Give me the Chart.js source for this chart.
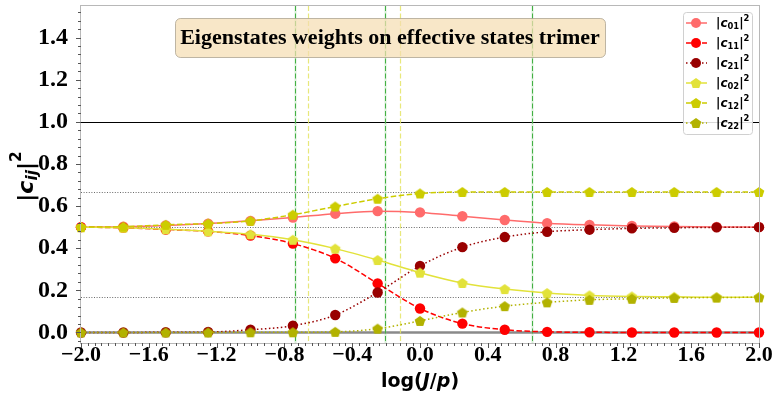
<!DOCTYPE html>
<html>
<head>
<meta charset="utf-8">
<script src="https://cdn.jsdelivr.net/npm/chart.js@4/dist/chart.umd.min.js"></script>
<style>
  html, body { margin: 0; padding: 0; background: #fff; }
  #wrap { width: 775px; height: 397px; }
</style>
</head>
<body>
<div id="wrap"><canvas id="c" width="775" height="397"></canvas></div>
<script>
// log(J/p) sample points
const logJp = [-2, -1.75, -1.5, -1.25, -1, -0.75, -0.5, -0.25, 0, 0.25, 0.5, 0.75, 1, 1.25, 1.5, 1.75, 2];

// squared weights |c_ij|^2
const c01 = [0.500, 0.502, 0.508, 0.517, 0.530, 0.546, 0.564, 0.576, 0.570, 0.552, 0.534, 0.519, 0.511, 0.506, 0.503, 0.501, 0.500];
const c11 = [0.500, 0.497, 0.489, 0.480, 0.460, 0.422, 0.352, 0.233, 0.114, 0.042, 0.013, 0.003, 0.001, 0.000, 0.000, 0.000, 0.000];
const c21 = [0.000, 0.000, 0.001, 0.002, 0.013, 0.032, 0.083, 0.190, 0.316, 0.405, 0.453, 0.478, 0.488, 0.494, 0.497, 0.499, 0.500];
const c02 = [0.500, 0.497, 0.490, 0.480, 0.466, 0.440, 0.398, 0.344, 0.284, 0.235, 0.206, 0.187, 0.176, 0.171, 0.169, 0.167, 0.167];
const c12 = [0.500, 0.502, 0.511, 0.517, 0.530, 0.559, 0.598, 0.635, 0.660, 0.667, 0.667, 0.667, 0.667, 0.667, 0.667, 0.667, 0.667];
const c22 = [0.000, 0.000, 0.000, 0.000, 0.001, 0.001, 0.003, 0.018, 0.055, 0.095, 0.125, 0.143, 0.155, 0.160, 0.164, 0.166, 0.167];

// reference levels and crossing markers
const hSolid = [1.0];
const hDotted = [2 / 3, 1 / 2, 1 / 6];
const vGreen = [-0.736, -0.208, 0.663];
const vYellow = [-0.659, -0.118];

// axis ticks
const xTicks = [-2.0, -1.6, -1.2, -0.8, -0.4, 0.0, 0.4, 0.8, 1.2, 1.6, 2.0];
const yTicks = [0.0, 0.2, 0.4, 0.6, 0.8, 1.0, 1.2, 1.4];

const titleText = 'Eigenstates weights on effective states trimer';

const SERIF = '"Liberation Serif", "Times New Roman", serif';
const SANS = '"DejaVu Sans", sans-serif';

function pentagon(color, r) {
  const s = Math.ceil(r * 2 + 2);
  const cv = document.createElement('canvas');
  cv.width = s; cv.height = s;
  const g = cv.getContext('2d');
  g.fillStyle = color;
  g.beginPath();
  for (let i = 0; i < 5; i++) {
    const a = -Math.PI / 2 + i * 2 * Math.PI / 5;
    const px = s / 2 + r * Math.cos(a), py = s / 2 + 0.5 + r * Math.sin(a);
    if (i) g.lineTo(px, py); else g.moveTo(px, py);
  }
  g.closePath();
  g.fill();
  return cv;
}

const series = [
  { key: ['0', '1'], vals: c01, color: '#ff6b6b', dash: [], marker: 'circle' },
  { key: ['1', '1'], vals: c11, color: '#ff0000', dash: [5.5, 2.5], marker: 'circle' },
  { key: ['2', '1'], vals: c21, color: '#990000', dash: [1.5, 2.5], marker: 'circle' },
  { key: ['0', '2'], vals: c02, color: '#e2e23a', dash: [], marker: 'pent' },
  { key: ['1', '2'], vals: c12, color: '#cccc00', dash: [5.5, 2.5], marker: 'pent' },
  { key: ['2', '2'], vals: c22, color: '#b2b200', dash: [1.5, 2.5], marker: 'pent' }
];

const datasets = series.map((s, i) => ({
  label: '|c' + s.key.join('') + '|²',
  data: logJp.map((x, k) => ({ x: x, y: s.vals[k] })),
  borderColor: s.color,
  backgroundColor: s.color,
  borderWidth: 1.5,
  borderDash: s.dash,
  cubicInterpolationMode: 'monotone',
  pointStyle: s.marker === 'circle' ? 'circle' : pentagon(s.color, 5.6),
  pointRadius: 5.2,
  pointBorderWidth: 0,
  pointBorderColor: s.color,
  order: 6 - i,
  clip: 8
}));

// draws text with sub/superscripts; returns total width
function mathRuns(ctx, x, y, runs, base, doDraw) {
  let cx = x;
  for (const [t, k] of runs) {
    let size = base, dy = 0, style = '';
    if (k === 'i') style = 'italic ';
    if (k === 'sub' || k === 'isub') { size = base * 0.7; dy = base * 0.25; }
    if (k === 'isub') style = 'italic ';
    if (k === 'sup') { size = base * 0.7; dy = -base * 0.45; }
    ctx.font = style + 'bold ' + size + 'px ' + SANS;
    if (doDraw) ctx.fillText(t, cx, y + dy);
    cx += ctx.measureText(t).width;
  }
  return cx - x;
}

const decor = {
  id: 'decor',
  beforeDatasetsDraw(chart) {
    const { ctx, chartArea: a, scales: { x, y } } = chart;
    ctx.save();
    ctx.beginPath();
    ctx.rect(a.left, a.top, a.right - a.left, a.bottom - a.top);
    ctx.clip();
    const hline = (v, col, w, dash) => {
      const py = Math.round(y.getPixelForValue(v)) + (w % 2 ? 0.5 : 0);
      ctx.strokeStyle = col; ctx.lineWidth = w; ctx.setLineDash(dash);
      ctx.beginPath(); ctx.moveTo(a.left, py); ctx.lineTo(a.right, py); ctx.stroke();
    };
    const vline = (v, col, w, dash) => {
      const px = Math.round(x.getPixelForValue(v)) + 0.5;
      ctx.strokeStyle = col; ctx.lineWidth = w; ctx.setLineDash(dash);
      ctx.beginPath(); ctx.moveTo(px, a.top); ctx.lineTo(px, a.bottom); ctx.stroke();
    };
    hline(0, '#8a8a8a', 2.5, []);
    hSolid.forEach(v => hline(v, '#000', 1, []));
    hDotted.forEach(v => hline(v, '#444', 0.8, [1, 1.6]));
    vGreen.forEach(v => { vline(v, 'rgba(140,210,140,0.35)', 2, []); vline(v, '#44b044', 1, [5, 2.5]); });
    vYellow.forEach(v => vline(v, 'rgba(228,228,100,0.85)', 1.2, [5, 2.5]));
    ctx.restore();
  },
  afterDatasetsDraw(chart) {
    const { ctx, chartArea: a, scales: { x, y } } = chart;
    ctx.save();
    // frame
    ctx.strokeStyle = '#b8b8b8'; ctx.lineWidth = 1; ctx.setLineDash([]);
    ctx.strokeRect(a.left - 0.5, a.top - 0.5, a.right - a.left + 1, a.bottom - a.top + 1);

    // ticks
    ctx.strokeStyle = '#555';
    ctx.lineWidth = 1;
    const tickX = (v, len) => {
      const px = Math.round(x.getPixelForValue(v)) + 0.5;
      ctx.beginPath(); ctx.moveTo(px, a.bottom); ctx.lineTo(px, a.bottom + len); ctx.stroke();
    };
    const tickY = (v, len) => {
      const py = Math.round(y.getPixelForValue(v)) + 0.5;
      ctx.beginPath(); ctx.moveTo(a.left, py); ctx.lineTo(a.left - len, py); ctx.stroke();
    };
    for (let i = -50; i <= 50; i++) { tickX(i * 0.04, i % 10 === 0 ? 5 : 3); }
    for (let i = -1; i <= 38; i++) { tickY(i * 0.04, i % 5 === 0 ? 5 : 3); }

    // title box
    const bx = 175, by = 18, bw = 430, bh = 39;
    ctx.fillStyle = 'rgba(245,222,179,0.72)';
    ctx.strokeStyle = 'rgba(150,140,120,0.6)';
    ctx.lineWidth = 1;
    ctx.beginPath();
    ctx.roundRect(bx + 0.5, by + 0.5, bw, bh, 5);
    ctx.fill(); ctx.stroke();
    ctx.fillStyle = '#000';
    ctx.font = 'bold 22px ' + SERIF;
    ctx.textAlign = 'center'; ctx.textBaseline = 'middle';
    ctx.fillText(titleText, bx + bw / 2, by + bh / 2 + 1);

    // legend
    const lx = 683, ly = 12, lw = 69, lh = 122;
    ctx.fillStyle = 'rgba(255,255,255,0.85)';
    ctx.strokeStyle = '#d0d0d0';
    ctx.beginPath(); ctx.roundRect(lx + 0.5, ly + 0.5, lw, lh, 3); ctx.fill(); ctx.stroke();
    ctx.textAlign = 'left'; ctx.textBaseline = 'middle';
    series.forEach((s, i) => {
      const ry = 23 + 20 * i;
      ctx.strokeStyle = s.color; ctx.lineWidth = 1.5; ctx.setLineDash(s.dash);
      ctx.beginPath(); ctx.moveTo(686, ry); ctx.lineTo(707, ry); ctx.stroke();
      ctx.setLineDash([]);
      ctx.fillStyle = s.color;
      if (s.marker === 'circle') {
        ctx.beginPath(); ctx.arc(696, ry, 5, 0, Math.PI * 2); ctx.fill();
      } else {
        const p = datasets[i].pointStyle;
        ctx.drawImage(p, 696 - p.width / 2, ry - p.height / 2);
      }
      ctx.fillStyle = '#000';
      mathRuns(ctx, 716, ry + 1, [['|', 'n'], ['c', 'i'], [s.key.join(''), 'sub'], ['|', 'n'], ['2', 'sup']], 12, true);
    });

    // axis titles
    ctx.fillStyle = '#000';
    ctx.textBaseline = 'middle';
    const xr = [['log(', 'n'], ['J', 'i'], ['/', 'n'], ['p', 'i'], [')', 'n']];
    const xw = mathRuns(ctx, 0, 0, xr, 19, false);
    mathRuns(ctx, (a.left + a.right) / 2 - xw / 2, 382, xr, 19, true);

    const yr = [['|', 'n'], ['c', 'i'], ['ij', 'isub'], ['|', 'n'], ['2', 'sup']];
    ctx.save();
    ctx.translate(27, (a.top + a.bottom) / 2 + 2);
    ctx.rotate(-Math.PI / 2);
    const yw = mathRuns(ctx, 0, 0, yr, 22, false);
    mathRuns(ctx, -yw / 2, 0, yr, 22, true);
    ctx.restore();

    ctx.restore();
  }
};

const fmt = v => {
  const s = Math.abs(v) < 1e-9 ? '0.0' : Number(v).toFixed(1);
  return s.replace('-', '\u2212');
};

new Chart(document.getElementById('c'), {
  type: 'line',
  data: { datasets: datasets },
  options: {
    responsive: false,
    animation: false,
    devicePixelRatio: 1,
    layout: { padding: { top: 6, right: 16, left: 0, bottom: 0 } },
    plugins: { legend: { display: false }, tooltip: { enabled: false } },
    scales: {
      x: {
        type: 'linear', min: -2, max: 2,
        afterBuildTicks: s => { s.ticks = xTicks.map(v => ({ value: v })); },
        afterFit: s => { s.height = 54; s.paddingLeft = 0; s.paddingRight = 0; },
        grid: { display: false },
        border: { display: false },
        ticks: {
          callback: fmt, maxRotation: 0, autoSkip: false, padding: -9,
          color: '#000', font: { family: SERIF, size: 22, weight: 'bold' }
        }
      },
      y: {
        type: 'linear', min: -0.05, max: 1.55,
        afterBuildTicks: s => { s.ticks = yTicks.map(v => ({ value: v })); },
        afterFit: s => { s.width = 81; s.paddingTop = 0; s.paddingBottom = 0; },
        grid: { display: false },
        border: { display: false },
        ticks: {
          callback: fmt, padding: 5,
          color: '#000', font: { family: SERIF, size: 24, weight: 'bold' }
        }
      }
    }
  },
  plugins: [decor]
});
</script>
</body>
</html>
